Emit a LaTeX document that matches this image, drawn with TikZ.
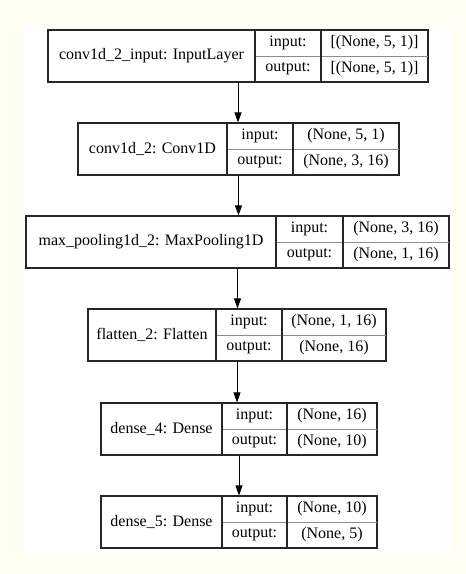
\documentclass[tikz,border=0pt]{standalone}
\usepackage{fontspec}
\setmainfont{Liberation Serif}
\usetikzlibrary{arrows.meta}
\definecolor{cream}{RGB}{255,253,240}
\begin{document}
\begin{tikzpicture}[x=1pt, y=-1pt, font=\fontsize{16}{18}\selectfont,
  layerbox/.style={draw=black!85, line width=1.1pt, inner sep=0pt, minimum height=52pt},
  cellline/.style={draw=black!85, line width=1.1pt},
  midline/.style={draw=black!45, line width=0.8pt},
  flow/.style={-{Triangle[length=10pt,width=7pt]}, line width=0.9pt}]

  % background
  \fill[cream] (0,0) rectangle (466,574);
  \fill[white] (24,25) rectangle (453,553);

  % layers: name/left/div1/div2/right/top/label/input/output
  \foreach \n/\l/\a/\b/\r/\t/\lab/\inp/\outp in {
    L1/48/255/321/428/30/{conv1d\_2\_input: InputLayer}/{[(None, 5, 1)]}/{[(None, 5, 1)]},
    L2/78/227/293/399/123/{conv1d\_2: Conv1D}/{(None, 5, 1)}/{(None, 3, 16)},
    L3/26/276/343/449/216/{max\_pooling1d\_2: MaxPooling1D}/{(None, 3, 16)}/{(None, 1, 16)},
    L4/88/216/282/386/309/{flatten\_2: Flatten}/{(None, 1, 16)}/{(None, 16)},
    L5/101/222/287/377/403/{dense\_4: Dense}/{(None, 16)}/{(None, 10)},
    L6/101/222/287/377/496/{dense\_5: Dense}/{(None, 10)}/{(None, 5)}
  }{
    \pgfmathsetmacro\w{\r-\l}
    \node[layerbox, minimum width=\w pt] (\n) at ({(\l+\r)/2},{\t+26}) {};
    \draw[midline] (\a,\t+26) -- (\r,\t+26);
    \draw[cellline] (\a,\t) -- (\a,\t+52);
    \draw[cellline] (\b,\t) -- (\b,\t+52);
    \node (\n-name) at ({(\l+\a)/2},{\t+26}) {\lab};
    \node (\n-inkey) at ({(\a+\b)/2},{\t+13}) {input:};
    \node (\n-outkey) at ({(\a+\b)/2},{\t+39}) {output:};
    \node (\n-inval) at ({(\b+\r)/2},{\t+13}) {\inp};
    \node (\n-outval) at ({(\b+\r)/2},{\t+39}) {\outp};
  }

  % connectors
  \foreach \s/\e in {L1/L2, L2/L3, L3/L4, L4/L5, L5/L6}
    \draw[flow] (\s.south) -- (\s.south |- \e.north);
\end{tikzpicture}
\end{document}
